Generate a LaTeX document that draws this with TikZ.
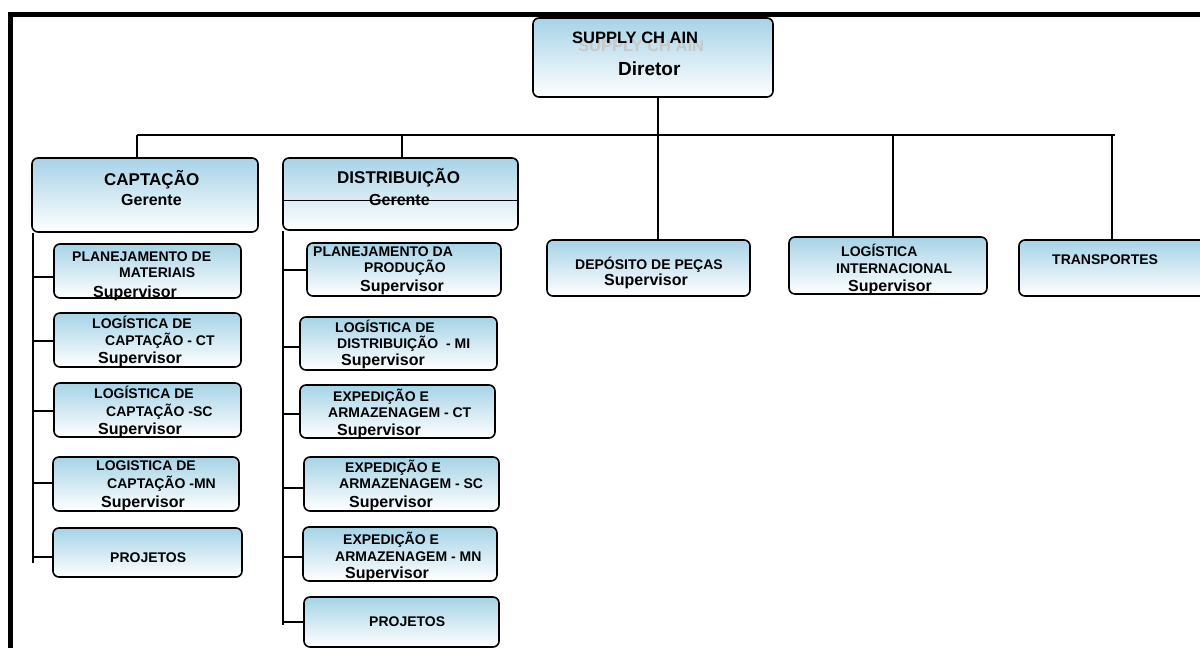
\documentclass[tikz,border=0pt]{standalone}
\usepackage{fontspec}
\newfontfamily\orgfont{Liberation Sans}
\definecolor{boxblue}{RGB}{166,211,231}
\definecolor{ghost}{RGB}{200,200,200}

\begin{document}
\begin{tikzpicture}[x=1pt,y=-1pt,
    unit/.style={draw,line width=1.6pt,rounded corners=6pt,top color=boxblue,bottom color=white,inner sep=0pt},
    link/.style={line width=1.5pt},
    small/.style={anchor=base west,inner sep=0pt,font=\orgfont\bfseries\fontsize{14}{16}\selectfont},
    chief/.style={anchor=base west,inner sep=0pt,font=\orgfont\bfseries\fontsize{16}{18}\selectfont},
    head/.style={anchor=base west,inner sep=0pt,font=\orgfont\bfseries\fontsize{17}{19}\selectfont},
    boss/.style={anchor=base west,inner sep=0pt,font=\orgfont\bfseries\fontsize{16}{18}\selectfont}]
    \useasboundingbox (0,0) rectangle (1200,648);

    % frame
    \draw[line width=5pt] (10.5,648) -- (10.5,14.5) -- (1200,14.5);

    % boxes
    \node[unit,minimum width=240pt,minimum height=79pt] (sc) at (653,57.5) {};
    \node[unit,minimum width=226pt,minimum height=74pt] (cap) at (145,195) {};
    \node[unit,minimum width=235pt,minimum height=72pt] (dis) at (400.5,194) {};
    \node[unit,minimum width=203pt,minimum height=56pt] (dep) at (648.5,268) {};
    \node[unit,minimum width=198pt,minimum height=57pt] (lint) at (888,265.5) {};
    \node[unit,minimum width=196pt,minimum height=56pt] (trn) at (1117,268) {};

    \node[unit,minimum width=187pt,minimum height=54pt] (pm) at (147.5,271) {};
    \node[unit,minimum width=187pt,minimum height=54pt] (lcct) at (147.5,340) {};
    \node[unit,minimum width=187pt,minimum height=54pt] (lcsc) at (147.5,410) {};
    \node[unit,minimum width=186pt,minimum height=54pt] (lcmn) at (146,484) {};
    \node[unit,minimum width=189pt,minimum height=49pt] (prjc) at (147.5,552.5) {};

    \node[unit,minimum width=194pt,minimum height=53pt] (pp) at (404,269.5) {};
    \node[unit,minimum width=197pt,minimum height=53pt] (ldmi) at (398.5,343.5) {};
    \node[unit,minimum width=195pt,minimum height=53pt] (eact) at (397.5,411.5) {};
    \node[unit,minimum width=195pt,minimum height=54pt] (easc) at (401.5,484) {};
    \node[unit,minimum width=194pt,minimum height=54pt] (eamn) at (400,554) {};
    \node[unit,minimum width=195pt,minimum height=50pt] (prjd) at (401.5,622) {};

    % tree lines
    \coordinate (jcap) at (137,135);
    \coordinate (jdis) at (402,135);
    \coordinate (jdep) at (658,135);
    \coordinate (jint) at (893,135);
    \coordinate (jtrn) at (1112,135);
    \coordinate (barR) at (1115,135);
    \coordinate (capspine) at (33,563);
    \coordinate (disspine) at (283,625);

    \draw[link] (jcap) -- (barR);
    \draw[link] (jdep) -- (jdep |- sc.south);
    \foreach \j/\n in {jcap/cap,jdis/dis,jdep/dep,jint/lint,jtrn/trn}
        \draw[link] (\j) -- (\j |- \n.north);

    \draw[link] (capspine |- cap.south) -- (capspine);
    \foreach \n/\d in {pm/6,lcct/1,lcsc/1,lcmn/-1,prjc/4.5}
        \draw[link] ([yshift=-\d pt]\n.west) -- ([yshift=-\d pt]\n.west -| capspine);
    \draw[link] (disspine |- dis.south) -- (disspine);
    \foreach \n/\d in {pp/0.5,ldmi/3.5,eact/2.5,easc/4,eamn/3,prjd/0}
        \draw[link] ([yshift=-\d pt]\n.west) -- ([yshift=-\d pt]\n.west -| disspine);
    \draw[line width=1pt] ([yshift=-6pt]dis.west) -- ([yshift=-6pt]dis.east);

    % texts
    \node[anchor=base west,inner sep=0pt,text=ghost,font=\orgfont\bfseries\fontsize{16.5}{18}\selectfont] (sc0) at (578,51) {SUPPLY CH AIN};
    \node[anchor=base west,inner sep=0pt,font=\orgfont\bfseries\fontsize{16.5}{18}\selectfont] (sc1) at (572,43) {SUPPLY CH AIN};
    \node[anchor=base west,inner sep=0pt,font=\orgfont\bfseries\fontsize{19}{21}\selectfont] (sc2) at (618,75) {Diretor};

    \node[head] (cap1) at (104,185) {CAPTAÇÃO};
    \node[boss] (cap2) at (121,205) {Gerente};
    \node[head] (dis1) at (337,183) {DISTRIBUIÇÃO};
    \node[boss] (dis2) at (369,205) {Gerente};

    \node[small] (pm1) at (72,261) {PLANEJAMENTO DE};
    \node[small] (pm2) at (119,277) {MATERIAIS};
    \node[chief] (pm3) at (93,297) {Supervisor};
    \node[small] (lcct1) at (92,328) {LOGÍSTICA DE};
    \node[small] (lcct2) at (105,345) {CAPTAÇÃO - CT};
    \node[chief] (lcct3) at (98,363) {Supervisor};
    \node[small] (lcsc1) at (94,398) {LOGÍSTICA DE};
    \node[small] (lcsc2) at (106,416) {CAPTAÇÃO -SC};
    \node[chief] (lcsc3) at (98,434) {Supervisor};
    \node[small] (lcmn1) at (96,470) {LOGISTICA DE};
    \node[small] (lcmn2) at (107,488) {CAPTAÇÃO -MN};
    \node[chief] (lcmn3) at (101,507) {Supervisor};
    \node[small] (prjc1) at (110,562) {PROJETOS};

    \node[small] (pp1) at (313,256) {PLANEJAMENTO DA};
    \node[small] (pp2) at (364,272) {PRODUÇÃO};
    \node[chief] (pp3) at (360,291) {Supervisor};
    \node[small] (ldmi1) at (335,332) {LOGÍSTICA DE};
    \node[small] (ldmi2) at (337,348) {DISTRIBUIÇÃO~ - MI};
    \node[chief] (ldmi3) at (341,365) {Supervisor};
    \node[small] (eact1) at (333,401) {EXPEDIÇÃO E};
    \node[small] (eact2) at (328,417) {ARMAZENAGEM - CT};
    \node[chief] (eact3) at (337,435) {Supervisor};
    \node[small] (easc1) at (345,472) {EXPEDIÇÃO E};
    \node[small] (easc2) at (339,488) {ARMAZENAGEM - SC};
    \node[chief] (easc3) at (349,507) {Supervisor};
    \node[small] (eamn1) at (343,544) {EXPEDIÇÃO E};
    \node[small] (eamn2) at (335,561) {ARMAZENAGEM - MN};
    \node[chief] (eamn3) at (345,578) {Supervisor};
    \node[small] (prjd1) at (369,626) {PROJETOS};

    \node[small] (dep1) at (575,269) {DEPÓSITO DE PEÇAS};
    \node[chief] (dep2) at (604,285) {Supervisor};
    \node[small] (lint1) at (841,256) {LOGÍSTICA};
    \node[small] (lint2) at (836,273) {INTERNACIONAL};
    \node[chief] (lint3) at (848,291) {Supervisor};
    \node[small] (trn1) at (1052,264) {TRANSPORTES};
\end{tikzpicture}
\end{document}
